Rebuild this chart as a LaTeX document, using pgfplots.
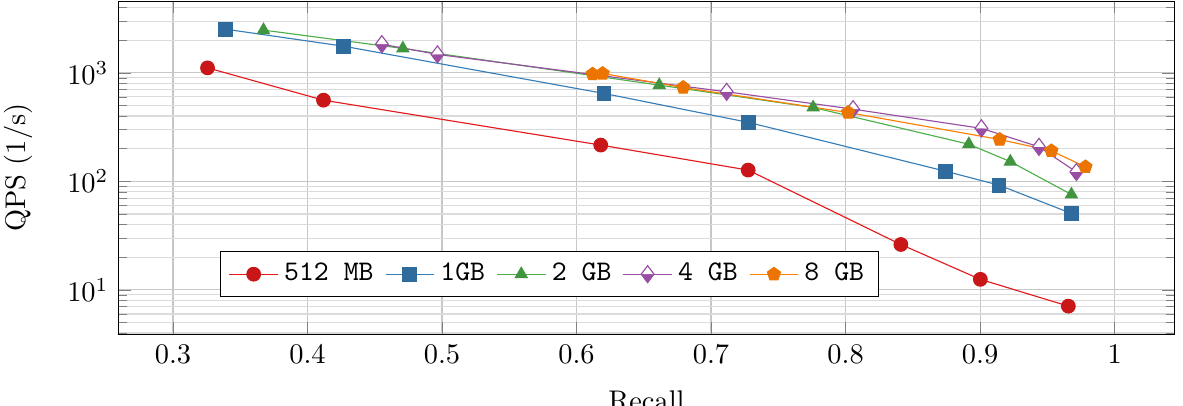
\documentclass[border=0pt]{standalone}
\usepackage{pgfplots}
\pgfplotsset{compat=1.18}
\usetikzlibrary{plotmarks}

% Set1 palette
\definecolor{cRed}{HTML}{E41A1C}
\definecolor{cBlue}{HTML}{377EB8}
\definecolor{cGreen}{HTML}{4DAF4A}
\definecolor{cPurple}{HTML}{984EA3}
\definecolor{cOrange}{HTML}{FF7F00}

\begin{document}
\begin{tikzpicture}
\useasboundingbox (-41.7pt,-25.3pt) rectangle (374.7pt,117.6pt);
\begin{axis}[
  scale only axis,
  width=371.7pt, height=117.2pt,
  ymode=log,
  xmin=0.2595, xmax=1.0445,
  ymin=3.91, ymax=4581,
  xtick={0.3,0.4,0.5,0.6,0.7,0.8,0.9,1},
  xticklabels={0.3,0.4,0.5,0.6,0.7,0.8,0.9,1},
  grid=both,
  major grid style={black!22},
  minor grid style={black!14},
  xlabel={Recall},
  ylabel={QPS (1/s)},
  xlabel style={yshift=-2.5pt},
  ylabel style={yshift=5.5pt},
  mark size=2.4pt,
  legend columns=-1,
  legend style={at={(0.408,0.18)}, anchor=center, font=\ttfamily,
    /tikz/every even column/.append style={column sep=2pt}},
]
\addplot[cRed, mark=*, mark options={fill=cRed!88!black, draw=cRed!88!black}] coordinates {
  (0.3257,1112) (0.4119,560) (0.6180,216) (0.7276,127)
  (0.8411,26.2) (0.9002,12.5) (0.9656,7.08)
};
\addlegendentry{512 MB}
\addplot[cBlue, mark=square*, mark options={fill=cBlue!85!black, draw=cBlue!85!black}] coordinates {
  (0.3389,2529) (0.4267,1762) (0.6204,646) (0.7281,349)
  (0.8743,124) (0.9141,92.3) (0.9679,50.6)
};
\addlegendentry{1GB}
\addplot[cGreen, mark=triangle*, mark options={fill=cGreen!85!black, draw=cGreen!85!black}] coordinates {
  (0.3673,2477) (0.4709,1679) (0.6615,771) (0.7759,480)
  (0.8916,220) (0.9225,152) (0.9679,75.7)
};
\addlegendentry{2 GB}
\addplot[cPurple, mark=halfdiamond*, mark size=3pt, mark options={fill=cPurple, draw=cPurple}] coordinates {
  (0.4553,1838) (0.4966,1479) (0.7116,669) (0.8056,463)
  (0.9010,308) (0.9438,208) (0.9716,122)
};
\addlegendentry{4 GB}
\addplot[cOrange, mark=pentagon*, mark options={fill=cOrange!92!black, draw=cOrange!92!black}] coordinates {
  (0.6120,973) (0.6194,987) (0.6793,733) (0.8019,431)
  (0.9146,243) (0.9530,191) (0.9783,136)
};
\addlegendentry{8 GB}
\end{axis}
\end{tikzpicture}
\end{document}
